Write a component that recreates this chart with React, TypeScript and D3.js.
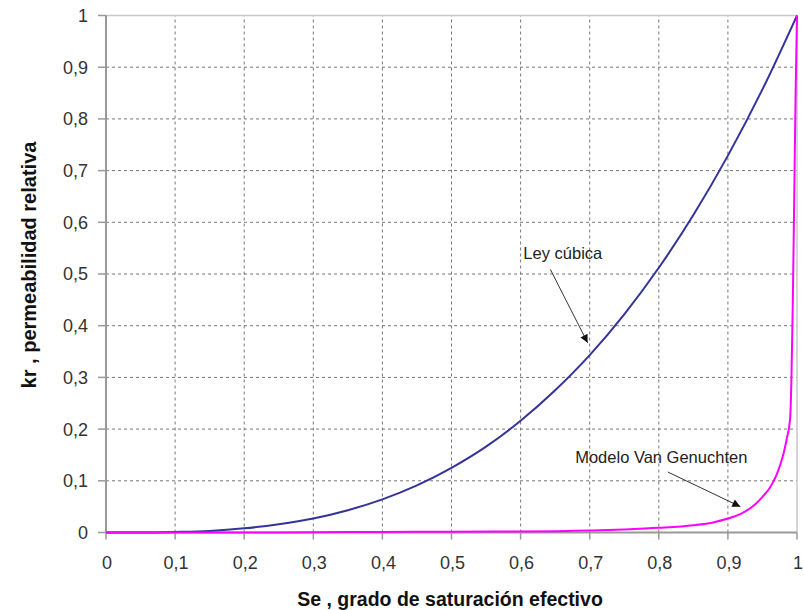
import React from 'react';
import * as d3 from 'd3';

// eje x: grado de saturacion efectivo
const xTicks = [0, 0.1, 0.2, 0.3, 0.4, 0.5, 0.6, 0.7, 0.8, 0.9, 1];
const yTicks = [0, 0.1, 0.2, 0.3, 0.4, 0.5, 0.6, 0.7, 0.8, 0.9, 1];

// Ley cubica
const cubicSe = [0, 0.05, 0.1, 0.15, 0.2, 0.25, 0.3, 0.35, 0.4, 0.45, 0.5, 0.55, 0.6, 0.65, 0.7, 0.75, 0.8, 0.85, 0.9, 0.95, 1];
const cubicKr = [0, 0, 0.001, 0.003, 0.008, 0.016, 0.027, 0.043, 0.064, 0.091, 0.125, 0.166, 0.216, 0.275, 0.343, 0.422, 0.512, 0.614, 0.729, 0.857, 1];

// Modelo Van Genuchten
const vgSe = [0, 0.1, 0.2, 0.3, 0.4, 0.5, 0.6, 0.7, 0.75, 0.8, 0.85, 0.88, 0.9, 0.92, 0.94, 0.95, 0.96, 0.97, 0.98, 0.985, 0.99, 0.992, 0.994, 0.996, 0.998, 1];
const vgKr = [0, 0, 0, 0.0005, 0.001, 0.0015, 0.002, 0.004, 0.006, 0.009, 0.014, 0.02, 0.027, 0.037, 0.055, 0.069, 0.085, 0.11, 0.15, 0.18, 0.22, 0.3, 0.45, 0.65, 0.85, 1];

const width = 804, height = 610;
const margin = { top: 15.5, right: 7, bottom: 77.5, left: 106 };

const fmt = (v: number) => String(v).replace('.', ',');

export default function App() {
    const x = d3.scaleLinear().domain([0, 1]).range([margin.left, width - margin.right]);
    const y = d3.scaleLinear().domain([0, 1]).range([height - margin.bottom, margin.top]);

    const line = d3.line<[number, number]>()
        .x(d => x(d[0]))
        .y(d => y(d[1]))
        .curve(d3.curveMonotoneX);

    const cubicPath = line(cubicSe.map((s, i) => [s, cubicKr[i]]));
    const vgPath = line(vgSe.map((s, i) => [s, vgKr[i]]));

    const x0 = x(0), x1 = x(1), y0 = y(0), y1 = y(1);
    const font = 'Liberation Sans, Arial, sans-serif';

    return (
        <svg width={width} height={height} style={{ position: 'absolute', left: 0, top: 0, background: '#fff' }}>
            <defs>
                <marker id="arrow" viewBox="0 0 10 10" refX="10" refY="5" markerWidth="10" markerHeight="8" orient="auto" markerUnits="userSpaceOnUse">
                    <path d="M0,0 L10,5 L0,10 z" fill="#111" />
                </marker>
            </defs>
            {/* rejilla */}
            {xTicks.slice(1, -1).map(t => (
                <line key={'gx' + t} x1={x(t)} x2={x(t)} y1={y0} y2={y1} stroke="#777" strokeDasharray="3,3" />
            ))}
            {yTicks.slice(1, -1).map(t => (
                <line key={'gy' + t} x1={x0} x2={x1} y1={y(t)} y2={y(t)} stroke="#777" strokeDasharray="3,3" />
            ))}
            {/* borde */}
            <line x1={x0} x2={x1} y1={y1} y2={y1} stroke="#c8c8c8" strokeWidth={1.5} />
            <line x1={x1} x2={x1} y1={y1} y2={y0} stroke="#c8c8c8" strokeWidth={1.5} />
            <line x1={x0} x2={x0} y1={y1} y2={y0} stroke="#999" strokeWidth={2} />
            <line x1={x0} x2={x1} y1={y0} y2={y0} stroke="#999" strokeWidth={2} />
            {/* ticks */}
            {yTicks.map(t => (
                <g key={'ty' + t}>
                    <line x1={x0 - 8} x2={x0} y1={y(t)} y2={y(t)} stroke="#999" strokeWidth={1.5} />
                    <text x={88} y={y(t)} dy="0.36em" textAnchor="end" fontFamily={font} fontSize={18} fill="#333">{fmt(t)}</text>
                </g>
            ))}
            {xTicks.map(t => (
                <g key={'tx' + t}>
                    <line x1={x(t)} x2={x(t)} y1={y0} y2={y0 + 7} stroke="#999" strokeWidth={1.5} />
                    <text x={x(t) + 1} y={563} dy="0.36em" textAnchor="middle" fontFamily={font} fontSize={18} fill="#333">{fmt(t)}</text>
                </g>
            ))}
            {/* curvas */}
            <path d={cubicPath ?? ''} fill="none" stroke="#333399" strokeWidth={2} />
            <path d={vgPath ?? ''} fill="none" stroke="#ff00ff" strokeWidth={2} />
            {/* anotaciones */}
            <text x={x(0.604)} y={y(0.54)} dy="0.36em" fontFamily={font} fontSize={16.5} fill="#222">Ley cúbica</text>
            <line x1={x(0.643)} y1={y(0.509)} x2={x(0.697)} y2={y(0.367)} stroke="#333" strokeWidth={1} markerEnd="url(#arrow)" />
            <text x={x(0.679)} y={y(0.146)} dy="0.36em" fontFamily={font} fontSize={16.5} fill="#222">Modelo Van Genuchten</text>
            <line x1={x(0.813)} y1={y(0.117)} x2={x(0.918)} y2={y(0.05)} stroke="#333" strokeWidth={1} markerEnd="url(#arrow)" />
            {/* titulos */}
            <text x={450} y={599} dy="0.36em" textAnchor="middle" fontFamily={font} fontSize={19.5} fontWeight="bold" fill="#111">Se , grado de saturación efectivo</text>
            <text transform="translate(29,265) rotate(-90)" dy="0.36em" textAnchor="middle" fontFamily={font} fontSize={20} fontWeight="bold" fill="#111">kr , permeabilidad relativa</text>
        </svg>
    );
}
